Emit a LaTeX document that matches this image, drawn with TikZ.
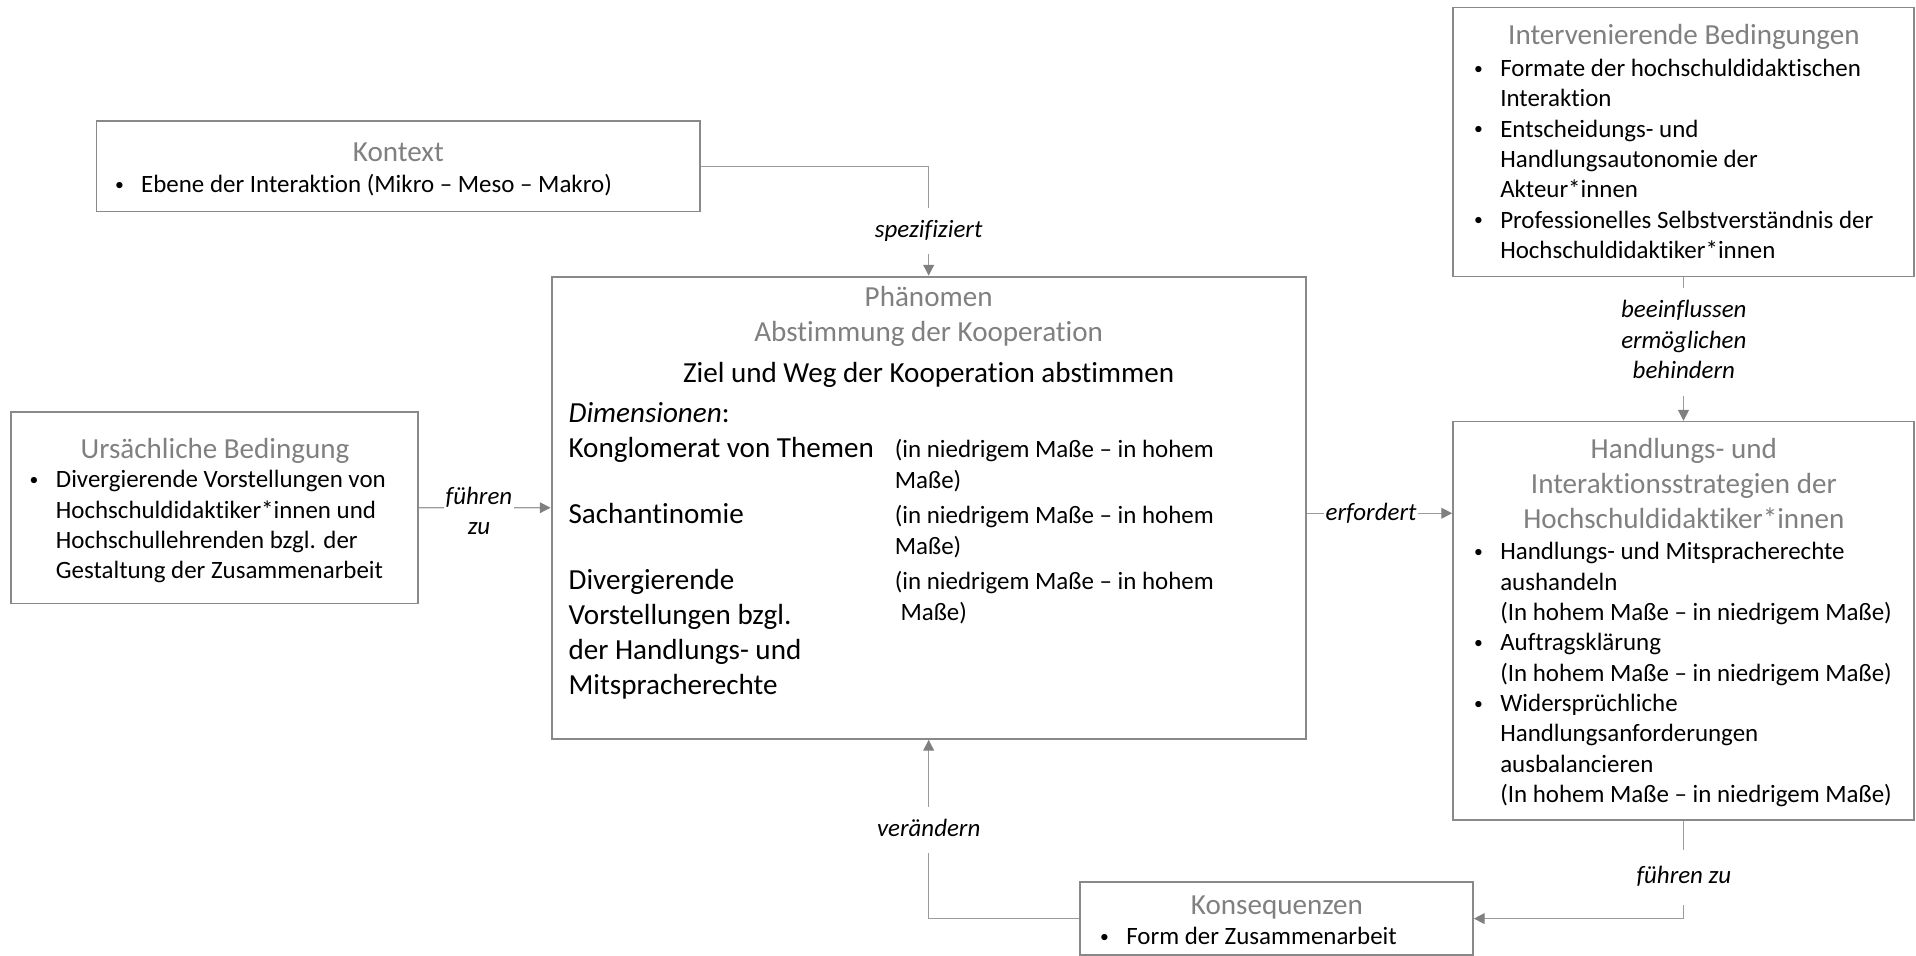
\documentclass[tikz,border=0pt]{standalone}
\usepackage{fontspec}
\setmainfont{Carlito}[Ligatures=NoCommon]
\usetikzlibrary{arrows.meta,fit}
\definecolor{boxgray}{RGB}{137,137,137}
\definecolor{titlegray}{RGB}{128,128,128}
\definecolor{linegray}{RGB}{155,155,155}
\definecolor{tipgray}{RGB}{128,128,128}
\newlength{\bulw}\setlength{\bulw}{12.6pt}
\newcommand{\lns}[1]{\begin{tabular}[t]{@{}l@{}}#1\end{tabular}}
\newcommand{\clns}[1]{\begin{tabular}[t]{@{}c@{}}#1\end{tabular}}
\newcommand{\bl}{\makebox[\bulw][l]{\raisebox{1.1pt}{\fontsize{8.5}{8.5}\selectfont\textbullet}}}
\newcommand{\ind}{\hspace*{\bulw}}
\newcommand{\fsBody}{\fontsize{12}{14.6}\selectfont}
\newcommand{\fsPar}{\fontsize{12}{15.1}\selectfont}
\newcommand{\fsTitle}{\fontsize{14}{16.8}\selectfont}
\begin{document}
\begin{tikzpicture}[x=0.588pt,y=-0.588pt,
  box/.style={draw=boxgray, line width=0.75pt, inner sep=0pt},
  mainbox/.style={box, line width=1.1pt},
  title/.style={text=titlegray, font=\fsTitle, inner sep=0pt, anchor=base},
  big/.style={font=\fsTitle, inner sep=0pt, anchor=base west},
  body/.style={font=\fsBody, inner sep=0pt, anchor=base west},
  par/.style={font=\fsPar, inner sep=0pt, anchor=base west},
  conn/.style={draw=linegray, line width=0.6pt, -{Triangle[length=5.2pt,width=5.2pt,color=tipgray]}},
  lbl/.style={fill=white, font=\fsBody\itshape, inner xsep=1pt, inner ysep=4pt, anchor=base}]
\useasboundingbox (0,0) rectangle (1568,782);

% boxes
\node[box, fit={(79,99) (573,173)}] (kontext) {};
\node[mainbox, fit={(451.5,226.5) (1068.5,604.5)}] (phaen) {};
\node[box, fit={(8.8,337) (342,494)}] (urs) {};
\node[box, fit={(1189,6) (1566.5,226.4)}] (inter) {};
\node[box, fit={(1189,345) (1566.5,671)}] (hand) {};
\node[box, fit={(884,722) (1205.5,781.5)}] (kons) {};

% Kontext
\node[title] (kontextT) at (326,132.5) {Kontext};
\node[body] (kontextB) at (93.8,157.6) {\bl Ebene der Interaktion (Mikro – Meso – Makro)};

% Phaenomen
\node[title] (phT1) at (760,250.8) {Phänomen};
\node[title] (phT2) at (760,279.4) {Abstimmung der Kooperation};
\node[font=\fsTitle, inner sep=0pt, anchor=base] (phT3) at (760,312.7) {Ziel und Weg der Kooperation abstimmen};
\node[big] (dim) at (465,346) {\textit{Dimensionen}:};
\node[big] (d1) at (465,374.5) {Konglomerat von Themen};
\node[big] (d2) at (465,428.3) {Sachantinomie};
\node[big] (d3) at (465,482.3) {\lns{Divergierende\\Vorstellungen bzgl.\\der Handlungs- und\\Mitspracherechte}};
\node[par] (r1) at (732,374.2) {\lns{(in niedrigem Maße – in hohem\\Maße)}};
\node[par] (r2) at (732,428) {\lns{(in niedrigem Maße – in hohem\\Maße)}};
\node[par] (r3) at (732,482.2) {\lns{(in niedrigem Maße – in hohem\\\ Maße)}};

% Ursaechliche Bedingung
\node[title] (ursT) at (176,375) {Ursächliche Bedingung};
\node[body] (ursB) at (24,399.2) {\lns{\bl Divergierende Vorstellungen von\\\ind Hochschuldidaktiker*innen und\\\ind Hochschullehrenden bzgl. der\\\ind Gestaltung der Zusammenarbeit}};

% Intervenierende Bedingungen
\node[title] (interT) at (1378,36.7) {Intervenierende Bedingungen};
\node[body] (interB) at (1206,62.6) {\lns{\bl Formate der hochschuldidaktischen\\\ind Interaktion\\\bl Entscheidungs- und\\\ind Handlungsautonomie der\\\ind Akteur*innen\\\bl Professionelles Selbstverständnis der\\\ind Hochschuldidaktiker*innen}};

% Handlungs- und Interaktionsstrategien
\node[title] (handT) at (1378,375.2) {\clns{Handlungs- und\\Interaktionsstrategien der\\Hochschuldidaktiker*innen}};
\node[body] (handB) at (1206,458.1) {\lns{\bl Handlungs- und Mitspracherechte\\\ind aushandeln\\\ind (In hohem Maße – in niedrigem Maße)\\\bl Auftragsklärung\\\ind (In hohem Maße – in niedrigem Maße)\\\bl Widersprüchliche\\\ind Handlungsanforderungen\\\ind ausbalancieren\\\ind (In hohem Maße – in niedrigem Maße)}};

% Konsequenzen
\node[title] (konsT) at (1045,748.2) {Konsequenzen};
\node[body] (konsB) at (900,773) {\bl Form der Zusammenarbeit};

% connectors
\coordinate (erf) at (0,420);
\draw[conn] (kontext.east) -| (phaen.north);
\draw[conn] (urs.east) -- (phaen.west);
\draw[conn] (phaen.east |- erf) -- (hand.west |- erf);
\draw[conn] (inter.south) -- (hand.north);
\draw[conn] (hand.south) |- (kons.east);
\draw[conn] (kons.west) -| (phaen.south);

% connector labels
\node[lbl] (lspez) at (760,194) {\clns{spezifiziert}};
\node[lbl] (lfz1) at (392,412.5) {\clns{führen\\zu}};
\node[lbl] (lerf) at (1122,426) {\clns{erfordert}};
\node[lbl] (lbee) at (1378,260.2) {\clns{beeinflussen\\ermöglichen\\behindern}};
\node[lbl, inner ysep=6pt] (lfz2) at (1378,723.2) {\clns{führen zu}};
\node[lbl] (lver) at (760,684.2) {\clns{verändern}};
\end{tikzpicture}
\end{document}
